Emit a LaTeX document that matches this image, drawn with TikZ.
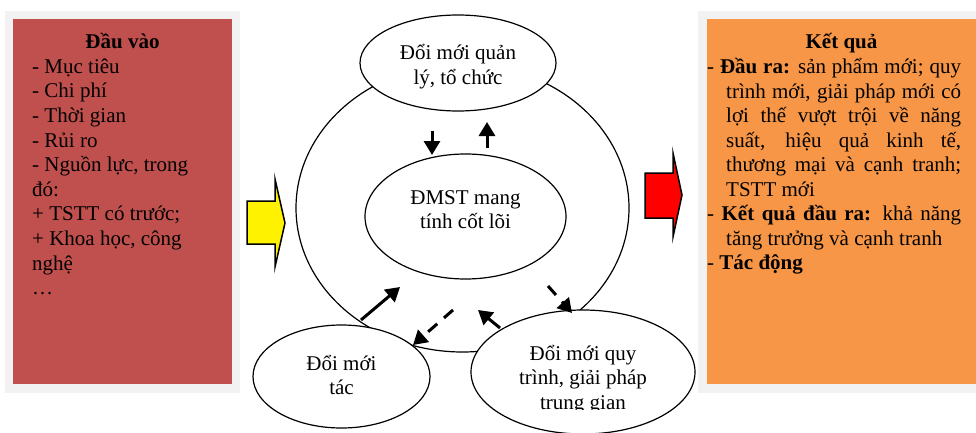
\documentclass[tikz,border=0pt]{standalone}
\usepackage{fontspec}
\setmainfont{Liberation Serif}
\usetikzlibrary{shapes.geometric,arrows.meta}
\definecolor{inred}{HTML}{C0504D}
\definecolor{outorange}{HTML}{F79646}
\definecolor{panelgray}{HTML}{F2F2F2}
\newcommand{\bubbletext}[1]{\parbox[t]{220pt}{\centering #1}}

\begin{document}
\begin{tikzpicture}[x=1pt,y=-1pt]
\tikzstyle{bubble}=[ellipse, draw, line width=1.2pt, fill=white, inner sep=0pt]
\tikzstyle{txt}=[inner sep=0pt, align=center, font=\fontsize{21}{24.5}\selectfont]
\tikzstyle{caption}=[inner sep=0pt, anchor=base, font=\fontsize{21}{24.5}\selectfont]
\tikzstyle{flow}=[line width=3pt, -{Triangle[length=14pt,width=16pt]}]
\tikzstyle{blockarrow}=[draw=black, line width=1.5pt, line join=miter]

\useasboundingbox (0,0) rectangle (976,433);
\clip (0,0) rectangle (976,433);

% input panel
\fill[panelgray] (5,11) rectangle (240,393);
\fill[inred] (13,19) rectangle (232,384);
\node[txt, anchor=base, font=\fontsize{21}{24.5}\selectfont\bfseries] (intitle) at (122.5,49) {Đầu vào};
\foreach \line [count=\i] in {- Mục tiêu, - Chi phí, - Thời gian, - Rủi ro, {- Nguồn lực, trong}, đó:, + TSTT có trước;, {+ Khoa học, công}, nghệ, …}
  \node[txt, anchor=base west] (in\i) at (32,48.7+\i*24.6) {\line};

% result panel
\fill[panelgray] (698,11) rectangle (990,393);
\fill[outorange] (707,19) rectangle (990,384);
\node[txt, anchor=base, font=\fontsize{21}{24.5}\selectfont\bfseries] (outtitle) at (841.5,49) {Kết quả};
\node[inner sep=0pt, anchor=base west, font=\fontsize{21}{24.5}\selectfont] (outtext) at (707,74) {\parbox[t]{254pt}{\tolerance=10000\hyphenpenalty=10000
\hangindent=19pt\hangafter=1
-~\textbf{Đầu ra:} sản phẩm mới; quy\linebreak trình mới, giải pháp mới có\linebreak lợi thế vượt trội về năng\linebreak suất, hiệu quả kinh tế,\linebreak thương mại và cạnh tranh;\linebreak TSTT mới\par
\hangindent=19pt\hangafter=1
-~\textbf{Kết quả đầu ra:} khả năng\linebreak tăng trưởng và cạnh tranh\par
-~\textbf{Tác động}}};

% the cycle
\node[draw, ellipse, line width=1.2pt, minimum width=333, minimum height=288] (ring) at (462.5,208) {};
\node[bubble, minimum width=196, minimum height=96] (org) at (458,63) {};
\node[bubble, minimum width=201, minimum height=125] (core) at (465.5,216.5) {};
\node[bubble, minimum width=177, minimum height=103] (tac) at (341.5,376.5) {};
\node[bubble, minimum width=224, minimum height=124] (quy) at (583,372) {};

\node[caption] (orgtext) at (458,60) {\bubbletext{Đổi mới quản\\lý, tổ chức}};
\node[caption] (coretext) at (465.5,204) {\bubbletext{ĐMST mang\\tính cốt lõi}};
\node[caption] (tactext) at (341.5,370) {\bubbletext{Đổi mới\\tác}};
\begin{scope}
\clip (460,300) rectangle (700,409);
\node[caption] (quytext) at (583,360) {\bubbletext{Đổi mới quy\\trình, giải pháp\\trung gian}};
\end{scope}

% small arrows
\coordinate (down1) at (432,131);
\coordinate (down2) at (432,155);
\coordinate (up1) at (487,148);
\coordinate (up2) at (487,122);
\coordinate (tacout) at (361,320);
\coordinate (tacin) at (400,287);
\coordinate (backa) at (453,310);
\coordinate (backb) at (413,345);
\coordinate (quyout) at (500,328);
\coordinate (quyin) at (478,310);
\coordinate (fwda) at (548,286);
\coordinate (fwdb) at (572,313);

\draw[flow] (down1) -- (down2);
\draw[flow] (up1) -- (up2);
\draw[flow] (tacout) -- (tacin);
\draw[flow, dash pattern=on 12pt off 9pt] (backa) -- (backb);
\draw[flow] (quyout) -- (quyin);
\draw[flow, dash pattern=on 12pt off 9pt] (fwda) -- (fwdb);

% block arrows
\filldraw[blockarrow, fill=yellow] (247,201) -- (275,201) -- (275,179) -- (285,223) -- (275,267) -- (275,244) -- (247,244) -- cycle;
\filldraw[blockarrow, fill=red] (645,173) -- (673,173) -- (673,153) -- (682,195) -- (673,237) -- (673,218) -- (645,218) -- cycle;

\end{tikzpicture}
\end{document}
